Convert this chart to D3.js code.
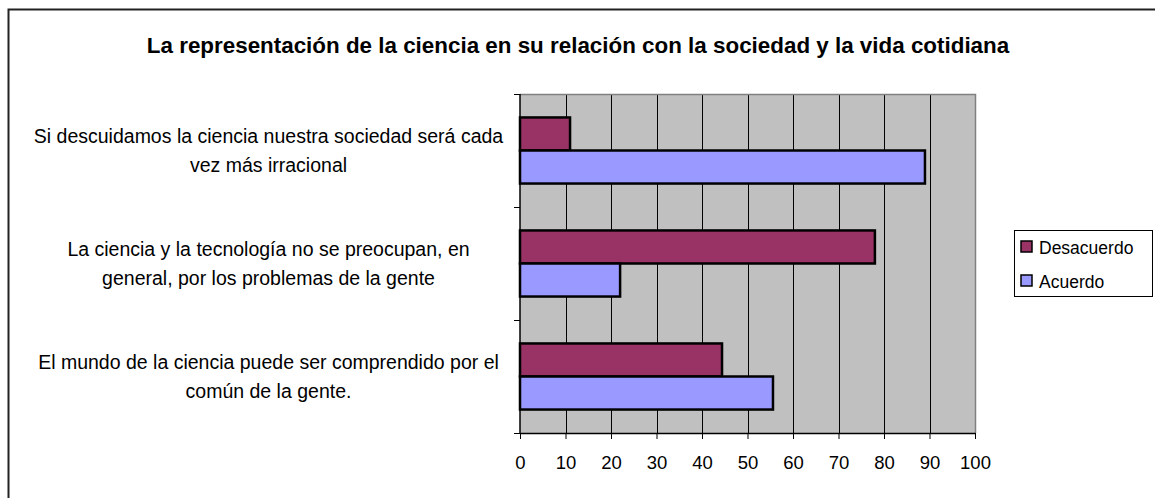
<!DOCTYPE html>
<html>
<head>
<meta charset="utf-8">
<script src="https://cdn.jsdelivr.net/npm/d3@7"></script>
<style>
  body { margin: 0; background: #fff; }
  svg text { font-family: "Liberation Sans", Arial, sans-serif; }
</style>
</head>
<body>
<svg width="1155" height="498"></svg>
<script>
// data
var categories = [
  ["Si descuidamos la ciencia nuestra sociedad será cada", "vez más irracional"],
  ["La ciencia y la tecnología no se preocupan, en", "general, por los problemas de la gente"],
  ["El mundo de la ciencia puede ser comprendido por el", "común de la gente."]
];
var series = ["Desacuerdo", "Acuerdo"];
var desacuerdo = [11, 78, 44.4];
var acuerdo = [89, 22, 55.6];
var colors = ["#993366", "#9999FF"];
var xTicks = [0, 10, 20, 30, 40, 50, 60, 70, 80, 90, 100];

var svg = d3.select("svg"),
    width = +svg.attr("width"),
    height = +svg.attr("height");

var plot = {left: 520, top: 94, right: 975, bottom: 433};

// outer frame (only top and left visible)
svg.append("path")
    .attr("d", "M8.5," + height + "V9.5H" + width)
    .attr("fill", "none")
    .attr("stroke", "#222")
    .attr("stroke-width", 2);

svg.append("text")
    .attr("x", 578)
    .attr("y", 53)
    .attr("text-anchor", "middle")
    .style("font-size", "22.4px")
    .style("font-weight", "bold")
    .text("La representación de la ciencia en su relación con la sociedad y la vida cotidiana");

var x = d3.scaleLinear().domain([0, 100]).range([plot.left, plot.right]);
var y = d3.scaleBand().domain(d3.range(categories.length)).range([plot.top, plot.bottom]);
var ySub = d3.scaleBand().domain(series).range([0, y.bandwidth()]).paddingInner(0).paddingOuter(0.71);

svg.append("rect")
    .attr("x", plot.left).attr("y", plot.top)
    .attr("width", plot.right - plot.left).attr("height", plot.bottom - plot.top)
    .attr("fill", "#C0C0C0");

// gridlines
svg.append("g").selectAll("line")
    .data(xTicks.slice(1, -1))
    .enter().append("line")
    .attr("x1", d => Math.round(x(d)) + 0.5).attr("x2", d => Math.round(x(d)) + 0.5)
    .attr("y1", plot.top).attr("y2", plot.bottom)
    .attr("stroke", "#000").attr("stroke-width", 1);

// plot border top/right
svg.append("path")
    .attr("d", "M" + plot.left + "," + (plot.top + 0.5) + "H" + (plot.right + 0.5) + "V" + plot.bottom)
    .attr("fill", "none").attr("stroke", "#808080").attr("stroke-width", 1.5);

var rows = categories.map(function (c, i) {
  return {i: i, values: [desacuerdo[i], acuerdo[i]]};
});

var groups = svg.append("g").selectAll("g")
    .data(rows)
    .enter().append("g")
    .attr("transform", d => "translate(0," + y(d.i) + ")");

groups.selectAll("rect")
    .data(d => d.values.map((v, k) => ({key: series[k], value: v, k: k})))
    .enter().append("rect")
    .attr("x", x(0))
    .attr("y", d => ySub(d.key))
    .attr("width", d => x(d.value) - x(0))
    .attr("height", ySub.bandwidth())
    .attr("fill", d => colors[d.k])
    .attr("stroke", "#000")
    .attr("stroke-width", 2.5);

// x axis
var xAxis = svg.append("g")
    .attr("transform", "translate(0," + plot.bottom + ")")
    .call(d3.axisBottom(x).tickValues(xTicks).tickSize(6).tickSizeOuter(0).tickPadding(17));
xAxis.select(".domain").attr("stroke", "#000").attr("stroke-width", 1.5);
xAxis.selectAll(".tick line").attr("stroke", "#000");
xAxis.selectAll("text")
    .style("font-size", "18.5px")
    .style("font-family", "'Liberation Sans', Arial, sans-serif")
    .attr("fill", "#000");

// y axis line and boundary ticks
svg.append("line")
    .attr("x1", plot.left).attr("x2", plot.left)
    .attr("y1", plot.top).attr("y2", plot.bottom)
    .attr("stroke", "#000").attr("stroke-width", 1.5);
svg.append("g").selectAll("line")
    .data(d3.range(categories.length + 1))
    .enter().append("line")
    .attr("x1", plot.left - 6).attr("x2", plot.left)
    .attr("y1", d => Math.round(plot.top + d * y.step()) + 0.5)
    .attr("y2", d => Math.round(plot.top + d * y.step()) + 0.5)
    .attr("stroke", "#000");

// category labels
var labels = svg.append("g").selectAll("text")
    .data(categories)
    .enter().append("text")
    .attr("text-anchor", "middle")
    .style("font-size", "19.5px")
    .attr("fill", "#000");
labels.each(function (d, i) {
  var cy = y(i) + y.bandwidth() / 2;
  d3.select(this).selectAll("tspan")
    .data(d)
    .enter().append("tspan")
    .attr("x", 268.5)
    .attr("y", (l, j) => cy + (j - 0.5) * 29 + 7)
    .text(l => l);
});

// legend
var legend = svg.append("g");
legend.append("rect")
    .attr("x", 1014.5).attr("y", 230.5)
    .attr("width", 138).attr("height", 66)
    .attr("fill", "#fff").attr("stroke", "#000");
var li = legend.selectAll("g")
    .data(series)
    .enter().append("g")
    .attr("transform", (d, i) => "translate(1021," + (241 + i * 34) + ")");
li.append("rect")
    .attr("width", 11).attr("height", 11)
    .attr("fill", (d, i) => colors[i])
    .attr("stroke", "#000").attr("stroke-width", 1.5);
li.append("text")
    .attr("x", 18).attr("y", 13)
    .style("font-size", "17.5px")
    .text(d => d);
</script>
</body>
</html>
